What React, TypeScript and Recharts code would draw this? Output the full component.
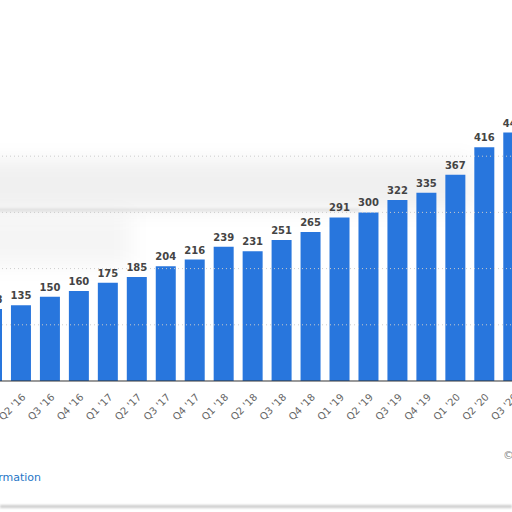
import React from "react";
import { BarChart, Bar, XAxis, YAxis, ReferenceLine, LabelList } from "recharts";

const quarters = [
  "Q1 '16", "Q2 '16", "Q3 '16", "Q4 '16",
  "Q1 '17", "Q2 '17", "Q3 '17", "Q4 '17",
  "Q1 '18", "Q2 '18", "Q3 '18", "Q4 '18",
  "Q1 '19", "Q2 '19", "Q3 '19", "Q4 '19",
  "Q1 '20", "Q2 '20", "Q3 '20",
];
const values = [128, 135, 150, 160, 175, 185, 204, 216, 239, 231, 251, 265, 291, 300, 322, 335, 367, 416, 442];
const gridTicks = [100, 200, 300, 400];

const data = quarters.map((q, i) => ({ q, v: values[i] }));

const BAND = 28.96;
const FONT = "'DejaVu Sans', Verdana, sans-serif";

function QuarterTick({ x, y, payload }: any) {
  return (
    <g transform={`translate(${x + 2},${y + 6})`}>
      <text
        transform="rotate(-45)"
        textAnchor="end"
        dy={4}
        fill="#666"
        fontSize={10}
        fontFamily={FONT}
      >
        {payload.value}
      </text>
    </g>
  );
}

export default function App() {
  const width = BAND * quarters.length;
  return (
    <div
      style={{
        position: "fixed", left: 0, top: 0, width: 512, height: 512,
        overflow: "hidden", background: "#fff", fontFamily: FONT,
      }}
    >
      {/* smeared grey patch behind the chart */}
      <div style={{
        position: "absolute", left: -30, top: 160, width: 500, height: 50,
        background: "rgba(0,0,0,0.06)", filter: "blur(10px)",
      }} />
      <div style={{
        position: "absolute", left: -30, top: 215, width: 160, height: 50,
        background: "rgba(0,0,0,0.04)", filter: "blur(10px)",
      }} />
      <div style={{
        position: "absolute", left: -20, top: 209, width: 380, height: 2,
        background: "rgba(0,0,0,0.13)", filter: "blur(1.5px)",
      }} />

      <div style={{ position: "absolute", left: -BAND * 0.5 - 8, top: 0 }}>
        <BarChart
          width={width}
          height={512}
          data={data}
          margin={{ top: 100, right: 0, bottom: 81, left: 0 }}
          barSize={20}
        >
          <YAxis hide domain={[0, 500]} />
          <XAxis
            dataKey="q"
            height={50}
            interval={0}
            tickLine={false}
            axisLine={{ stroke: "#333", strokeWidth: 1 }}
            tick={<QuarterTick />}
          />
          {gridTicks.map((t) => (
            <ReferenceLine key={t} y={t} stroke="#ccc" strokeDasharray="1 3" />
          ))}
          <Bar dataKey="v" fill="#2876dd" isAnimationActive={false}>
            <LabelList
              dataKey="v"
              position="top"
              offset={6}
              fill="#444"
              fontSize={10}
              fontWeight="bold"
              fontFamily={FONT}
            />
          </Bar>
        </BarChart>
      </div>

      <div style={{
        position: "absolute", right: 471, top: 471, whiteSpace: "nowrap",
        color: "#1f76c6", fontSize: 11,
      }}>
        Additional Information
      </div>
      <div style={{
        position: "absolute", left: 503, top: 449, whiteSpace: "nowrap",
        color: "#888", fontSize: 11,
      }}>
        © Statista 2021
      </div>
      <div style={{
        position: "absolute", left: 0, top: 505, width: 512, height: 3,
        background: "#ccc", filter: "blur(0.8px)",
      }} />
    </div>
  );
}
